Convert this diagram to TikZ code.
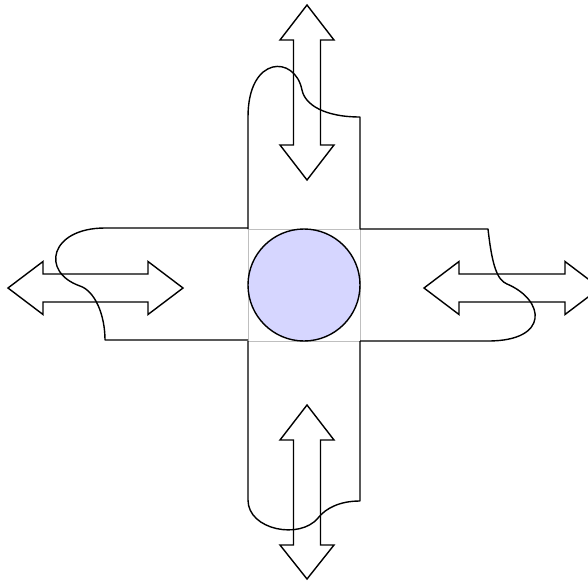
\documentclass[tikz,border=0pt]{standalone}
\usetikzlibrary{calc}
\definecolor{hubfill}{RGB}{214,214,255}
\tikzset{
  armline/.style={draw=black, line width=1.4pt, line join=round},
  dblarrow/.style={draw=black, line width=1.4pt, line join=miter},
  hubframe/.style={draw=black!25, line width=0.6pt},
  hub/.style={circle, draw=black, line width=1.4pt, fill=hubfill, minimum size=112pt, inner sep=0pt}
}
\begin{document}
\begin{tikzpicture}[x=1pt,y=-1pt]
\clip (0,0) rectangle (588,580);
% central frame
\draw[hubframe] (248,229) rectangle (360,341);
% top arm
\draw[armline] (248,229) -- (248,117) .. controls (248,55) and (295,55) .. (302,90)
  .. controls (305,105) and (325,117) .. (360,117) -- (360,229);
% bottom arm
\draw[armline] (248,341) -- (248,500) .. controls (248,530) and (300,540) .. (318,518)
  .. controls (326,508) and (340,501) .. (360,501) -- (360,341);
% left arm
\draw[armline] (248,228) -- (105,228) .. controls (50,228) and (40,272) .. (80,286)
  .. controls (95,291) and (105,315) .. (105,340) -- (248,340);
% right arm
\draw[armline] (360,229) -- (488,229) .. controls (492,265) and (497,280) .. (507,284)
  .. controls (545,300) and (550,341) .. (488,341) -- (360,341);
% top double arrow
\draw[dblarrow] (307,5) -- (334,40) -- (320.5,40) -- (320.5,145) -- (334,145) -- (307,180)
  -- (280,145) -- (293.5,145) -- (293.5,40) -- (280,40) -- cycle;
% bottom double arrow
\draw[dblarrow] (307,405) -- (334,440) -- (320.5,440) -- (320.5,545) -- (334,545) -- (307,579)
  -- (280,545) -- (293.5,545) -- (293.5,440) -- (280,440) -- cycle;
% left double arrow
\draw[dblarrow] (8,288) -- (43,261.5) -- (43,274) -- (148,274) -- (148,261.5) -- (183,288)
  -- (148,314.5) -- (148,302) -- (43,302) -- (43,314.5) -- cycle;
% right double arrow
\draw[dblarrow] (424,288) -- (459,261.5) -- (459,274) -- (565,274) -- (565,261.5) -- (600,288)
  -- (565,314.5) -- (565,302) -- (459,302) -- (459,314.5) -- cycle;
% hub
\node[hub] (hub) at (304,285) {};
\end{tikzpicture}
\end{document}
